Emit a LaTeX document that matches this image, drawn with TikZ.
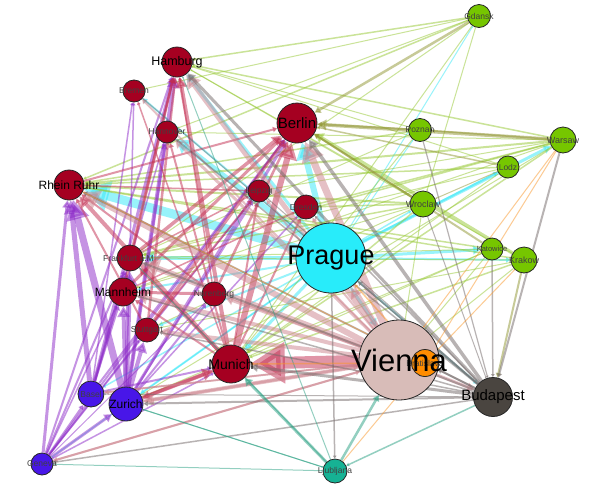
\documentclass[tikz,border=0pt]{standalone}
\usepackage{fontspec}
\setmainfont{Liberation Sans}
\usetikzlibrary{arrows.meta,backgrounds}
\definecolor{cde}{RGB}{165,0,33}
\definecolor{cch}{RGB}{72,22,232}
\definecolor{ccz}{RGB}{40,236,250}
\definecolor{cat}{RGB}{216,188,184}
\definecolor{csk}{RGB}{255,140,0}
\definecolor{chu}{RGB}{74,69,64}
\definecolor{csi}{RGB}{22,178,148}
\definecolor{cpl}{RGB}{118,198,0}
\definecolor{ecz}{RGB}{50,232,248}
\definecolor{epl}{RGB}{150,200,50}
\definecolor{eol}{RGB}{145,150,50}
\definecolor{ech}{RGB}{140,40,200}
\definecolor{ede}{RGB}{195,45,80}
\definecolor{eat}{RGB}{205,130,140}
\definecolor{ehu}{RGB}{115,105,105}
\definecolor{esi}{RGB}{40,160,130}
\definecolor{esk}{RGB}{250,150,40}
\begin{document}
\begin{tikzpicture}[x=1pt,y=-1pt,
  city/.style={circle, draw=black!85, line width=0.8pt, inner sep=0pt},
  lbl/.style={inner sep=0pt, text=black},
  small/.style={inner sep=0pt, text=black!75, font=\fontsize{8.5}{8.5}\selectfont},
  e/.style={draw opacity=0.5, fill opacity=0.5, -{Triangle[length=-1.5pt 3, width=-1.5pt 3.4]}},
]
\useasboundingbox (0,0) rectangle (616,491);
% cities
\node[city, fill=cde, minimum size=30pt] (Hamburg) at (177,62) {};
\node[city, fill=cde, minimum size=22pt] (Bremen) at (134,91) {};
\node[city, fill=cde, minimum size=22pt] (Hannover) at (167,132) {};
\node[city, fill=cde, minimum size=40pt] (Berlin) at (297,123) {};
\node[city, fill=cde, minimum size=30pt] (Ruhr) at (69,185) {};
\node[city, fill=cde, minimum size=22pt] (Leipzig) at (259,191) {};
\node[city, fill=cde, minimum size=24pt] (Dresden) at (306,207) {};
\node[city, fill=cde, minimum size=26pt] (Frankfurt) at (130,258) {};
\node[city, fill=cde, minimum size=28pt] (Mannheim) at (123,292) {};
\node[city, fill=cde, minimum size=24pt] (Nurenberg) at (214,294) {};
\node[city, fill=cde, minimum size=24pt] (Stuttgart) at (147,330) {};
\node[city, fill=cde, minimum size=38pt] (Munich) at (231,364) {};
\node[city, fill=cch, minimum size=26pt] (Basel) at (91,394) {};
\node[city, fill=cch, minimum size=34pt] (Zurich) at (126,404) {};
\node[city, fill=cch, minimum size=22pt] (Geneva) at (42,464) {};
\node[city, fill=ccz, minimum size=70pt] (Prague) at (331,258) {};
\node[city, fill=cat, minimum size=80pt] (Vienna) at (399,360) {};
\node[city, fill=csk, minimum size=27pt] (Bratislava) at (425,363) {};
\node[city, fill=chu, minimum size=39pt] (Budapest) at (493,397) {};
\node[city, fill=csi, minimum size=24pt] (Ljubljana) at (335,471) {};
\node[city, fill=cpl, minimum size=23pt] (Gdansk) at (479,16) {};
\node[city, fill=cpl, minimum size=23pt] (Poznan) at (420,130) {};
\node[city, fill=cpl, minimum size=26pt] (Warsaw) at (563,140) {};
\node[city, fill=cpl, minimum size=22pt] (Lodz) at (508,167) {};
\node[city, fill=cpl, minimum size=26pt] (Wroclaw) at (423,204) {};
\node[city, fill=cpl, minimum size=22pt] (Katowice) at (492,249) {};
\node[city, fill=cpl, minimum size=26pt] (Krakow) at (524,260) {};
% edges
\begin{pgfonlayer}{background}
\fill[white] (0,0) rectangle (616,491);
% Prague
\foreach \a/\b/\w in {Prague/Ruhr/9, Prague/Hannover/5, Prague/Hamburg/3, Prague/Berlin/6,
  Prague/Frankfurt/4, Prague/Bremen/2, Prague/Mannheim/2, Prague/Munich/3, Prague/Zurich/2,
  Prague/Stuttgart/2, Prague/Warsaw/3, Prague/Lodz/2, Prague/Katowice/3, Prague/Krakow/2,
  Prague/Wroclaw/1.5, Prague/Gdansk/1, Prague/Poznan/1, Prague/Geneva/1, Prague/Basel/1.5,
  Prague/Vienna/3, Prague/Budapest/2}
  \draw[e, ecz, line width=\w pt] (\a) -- (\b);
% Poland
\foreach \a/\b/\w in {Gdansk/Hamburg/1.5, Gdansk/Bremen/1, Gdansk/Ruhr/1.5, Gdansk/Hannover/1,
  Gdansk/Frankfurt/1, Gdansk/Wroclaw/1, Gdansk/Munich/1, Warsaw/Hamburg/1.5, Warsaw/Ruhr/2,
  Warsaw/Frankfurt/1.5, Warsaw/Munich/1.5, Warsaw/Mannheim/1, Warsaw/Zurich/1, Warsaw/Hannover/1,
  Warsaw/Dresden/1.5, Warsaw/Leipzig/1, Lodz/Ruhr/1.5, Lodz/Frankfurt/1, Lodz/Munich/1,
  Lodz/Hamburg/1, Poznan/Ruhr/1.5, Poznan/Hamburg/1, Poznan/Frankfurt/1, Poznan/Munich/1,
  Wroclaw/Ruhr/2, Wroclaw/Frankfurt/1.5, Wroclaw/Munich/1.5, Wroclaw/Hamburg/1,
  Wroclaw/Mannheim/1, Wroclaw/Stuttgart/1, Wroclaw/Dresden/1.5, Wroclaw/Vienna/1,
  Krakow/Berlin/3.5, Krakow/Ruhr/1.5, Krakow/Munich/1.5, Krakow/Frankfurt/1, Krakow/Hamburg/1,
  Katowice/Ruhr/1.5, Katowice/Munich/1, Katowice/Vienna/1, Krakow/Vienna/1, Katowice/Frankfurt/1,
  Katowice/Zurich/1, Krakow/Stuttgart/1}
  \draw[e, epl, line width=\w pt] (\a) -- (\b);
\foreach \a/\b/\w in {Gdansk/Berlin/2.5, Warsaw/Berlin/3.5, Lodz/Berlin/1.5, Poznan/Berlin/2,
  Wroclaw/Berlin/2, Katowice/Berlin/2, Krakow/Budapest/2, Warsaw/Poznan/1.5, Lodz/Wroclaw/1}
  \draw[e, eol, line width=\w pt] (\a) -- (\b);
% Switzerland
\foreach \a/\b/\w in {Zurich/Ruhr/7, Basel/Ruhr/5, Geneva/Ruhr/3, Zurich/Hamburg/4, Basel/Hamburg/3,
  Geneva/Hamburg/2, Zurich/Berlin/3, Basel/Berlin/2, Geneva/Berlin/2, Zurich/Frankfurt/5,
  Basel/Frankfurt/3, Geneva/Frankfurt/2, Zurich/Mannheim/4, Basel/Mannheim/2, Geneva/Mannheim/1.5,
  Zurich/Stuttgart/4, Zurich/Bremen/1.5, Basel/Bremen/1.5, Zurich/Hannover/2.5, Basel/Hannover/1.5,
  Zurich/Leipzig/2, Geneva/Leipzig/1.5, Zurich/Dresden/1.5, Zurich/Nurenberg/2, Geneva/Nurenberg/1,
  Geneva/Stuttgart/1.5, Basel/Munich/2, Geneva/Munich/1.5, Geneva/Zurich/3, Geneva/Basel/2}
  \draw[e, ech, line width=\w pt] (\a) -- (\b);
% Germany
\foreach \a/\b/\w in {Munich/Hamburg/4, Munich/Berlin/6, Munich/Ruhr/4, Munich/Frankfurt/3,
  Munich/Mannheim/2, Munich/Bremen/1.5, Munich/Hannover/2, Munich/Leipzig/2, Munich/Dresden/2,
  Munich/Zurich/3, Zurich/Munich/4, Stuttgart/Hamburg/2.5, Stuttgart/Berlin/3, Mannheim/Hamburg/2.5,
  Mannheim/Berlin/3, Frankfurt/Hamburg/2.5, Frankfurt/Berlin/3.5, Nurenberg/Berlin/2.5,
  Nurenberg/Hamburg/1.5, Nurenberg/Mannheim/3, Nurenberg/Ruhr/2, Ruhr/Berlin/2, Ruhr/Leipzig/1.5,
  Stuttgart/Ruhr/2, Frankfurt/Leipzig/1.5, Stuttgart/Leipzig/2, Mannheim/Dresden/1.5,
  Vienna/Munich/12}
  \draw[e, ede, line width=\w pt] (\a) -- (\b);
% Vienna
\foreach \a/\b/\w in {Vienna/Ruhr/6, Vienna/Hamburg/5, Vienna/Berlin/7,
  Vienna/Frankfurt/6, Vienna/Mannheim/4, Vienna/Stuttgart/4, Vienna/Nurenberg/3, Vienna/Zurich/4,
  Vienna/Basel/2, Vienna/Geneva/2, Vienna/Hannover/3, Vienna/Bremen/2, Vienna/Leipzig/2,
  Vienna/Dresden/2, Vienna/Prague/4, Vienna/Budapest/3, Zurich/Vienna/2.5, Geneva/Vienna/2,
  Basel/Vienna/1.5}
  \draw[e, eat, line width=\w pt] (\a) -- (\b);
% Budapest
\foreach \a/\b/\w in {Budapest/Hamburg/3, Budapest/Berlin/3.5, Budapest/Munich/3, Budapest/Ruhr/2,
  Budapest/Frankfurt/2, Budapest/Stuttgart/1.5, Budapest/Mannheim/1.5, Budapest/Hannover/1.5,
  Budapest/Bremen/1, Budapest/Zurich/2, Budapest/Geneva/1.5, Budapest/Basel/1, Budapest/Prague/2,
  Budapest/Leipzig/1, Budapest/Bratislava/2, Budapest/Dresden/1.5, Warsaw/Budapest/2,
  Poznan/Budapest/1.2, Wroclaw/Budapest/1, Katowice/Budapest/1.5, Prague/Ljubljana/1.5}
  \draw[e, ehu, line width=\w pt] (\a) -- (\b);
% Ljubljana
\foreach \a/\b/\w in {Ljubljana/Munich/3, Ljubljana/Vienna/2.5, Ljubljana/Zurich/1, Ljubljana/Frankfurt/1,
  Ljubljana/Hamburg/1, Budapest/Ljubljana/1.5, Zurich/Ljubljana/1, Geneva/Ljubljana/1}
  \draw[e, esi, line width=\w pt] (\a) -- (\b);
% Bratislava
\foreach \a/\b/\w in {Bratislava/Munich/1.5, Bratislava/Prague/1.5, Bratislava/Ruhr/1,
  Ljubljana/Bratislava/1, Warsaw/Bratislava/1, Krakow/Bratislava/1, Warsaw/Vienna/1}
  \draw[e, esk, line width=\w pt] (\a) -- (\b);
\end{pgfonlayer}
% labels
\node[small] (Bremen-t) at (Bremen) {Bremen};
\node[small] (Hannover-t) at (Hannover) {Hannover};
\node[small] (Leipzig-t) at (Leipzig) {Leipzig};
\node[small] (Dresden-t) at (Dresden) {Dresden};
\node[small] (Frankfurt-t) at (128.5,258) {Frankfurt a.M};
\node[small] (Nurenberg-t) at (Nurenberg) {Nurenberg};
\node[small] (Stuttgart-t) at (Stuttgart) {Stuttgart};
\node[small] (Basel-t) at (Basel) {Basel};
\node[small] (Geneva-t) at (Geneva) {Geneva};
\node[small] (Bratislava-t) at (Bratislava) {Bratislava};
\node[small] (Ljubljana-t) at (Ljubljana) {Ljubljana};
\node[small] (Gdansk-t) at (Gdansk) {Gdansk};
\node[small] (Poznan-t) at (Poznan) {Poznan};
\node[small, font=\fontsize{9}{9}\selectfont] (Warsaw-t) at (Warsaw) {Warsaw};
\node[small] (Lodz-t) at (Lodz) {Lodz};
\node[small, font=\fontsize{9}{9}\selectfont] (Wroclaw-t) at (Wroclaw) {Wroclaw};
\node[small, font=\fontsize{7.5}{7.5}\selectfont] (Katowice-t) at (Katowice) {Katowice};
\node[small, font=\fontsize{9}{9}\selectfont] (Krakow-t) at (Krakow) {Krakow};
\node[lbl, font=\fontsize{12.5}{12.5}\selectfont] (Hamburg-t) at (Hamburg) {Hamburg};
\node[lbl, font=\fontsize{15}{15}\selectfont] (Berlin-t) at (Berlin) {Berlin};
\node[lbl, font=\fontsize{12}{12}\selectfont] (Ruhr-t) at (Ruhr) {Rhein Ruhr};
\node[lbl, font=\fontsize{12}{12}\selectfont] (Mannheim-t) at (Mannheim) {Mannheim};
\node[lbl, font=\fontsize{14}{14}\selectfont] (Munich-t) at (Munich) {Munich};
\node[lbl, font=\fontsize{12}{12}\selectfont] (Zurich-t) at (Zurich) {Zurich};
\node[lbl, font=\fontsize{15}{15}\selectfont] (Budapest-t) at (Budapest) {Budapest};
\node[lbl, font=\fontsize{27}{27}\selectfont] (Prague-t) at (Prague) {Prague};
\node[lbl, font=\fontsize{31}{31}\selectfont] (Vienna-t) at (Vienna) {Vienna};
\end{tikzpicture}
\end{document}
